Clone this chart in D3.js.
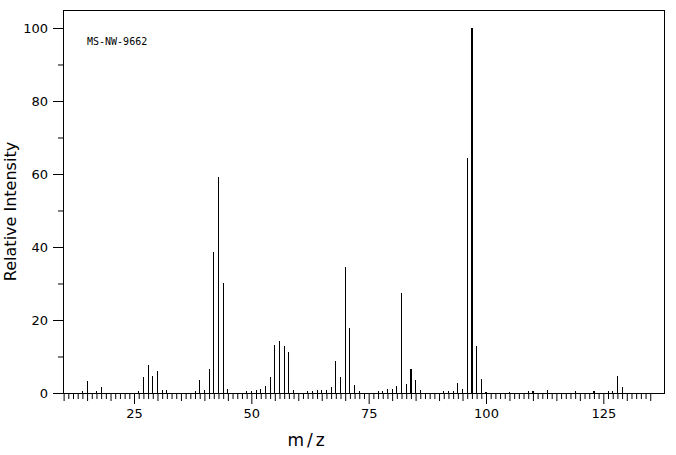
<!DOCTYPE html>
<html>
<head>
<meta charset="utf-8">
<script src="https://cdn.jsdelivr.net/npm/d3@7"></script>
<style>
  body { margin: 0; background: #fff; }
  text { font-family: "DejaVu Sans", sans-serif; fill: #000; }
</style>
</head>
<body>
<div id="chart"></div>
<script>
// peaks (m/z, relative intensity)
var mz = [14, 15, 17, 18, 26, 27, 28, 29, 30, 31, 32, 38, 39, 40, 41, 42, 43, 44, 45,
  49, 50, 51, 52, 53, 54, 55, 56, 57, 58, 59, 62, 63, 64, 65, 66, 67, 68, 69, 70, 71, 72, 73,
  77, 78, 79, 80, 81, 82, 83, 84, 85, 86, 91, 92, 93, 94, 95, 96, 97, 98, 99, 100,
  105, 109, 110, 113, 119, 123, 126, 127, 128, 129]
var intensity = [0.45, 3.2, 0.45, 1.7, 0.6, 4.3, 7.8, 4.6, 6.1, 0.9, 0.7, 0.45, 3.65, 0.9, 6.6, 38.6, 59.2, 30.2, 1.2,
  0.45, 0.45, 0.7, 1.2, 2.0, 4.5, 13.2, 14.2, 12.9, 11.3, 0.9, 0.45, 0.45, 0.7, 0.7, 0.7, 1.55, 8.9, 4.5, 34.5, 17.8, 2.3, 0.45,
  0.45, 0.45, 1.2, 1.2, 2.0, 27.4, 2.6, 6.6, 3.65, 0.9, 0.6, 0.45, 0.45, 2.7, 1.0, 64.4, 100, 12.9, 3.9, 0.3,
  0.3, 0.6, 0.5, 0.9, 0.6, 0.5, 0.6, 0.6, 4.75, 1.55]

var xTickLabels = [25, 50, 75, 100, 125]
var yTickLabels = [0, 20, 40, 60, 80, 100]
var title = "MS-NW-9662"

var peaks = mz.map(function(m, i) { return {mz: m, val: intensity[i]}; });

var margin = {top: 10, right: 12, bottom: 62, left: 63},
width = 676 - margin.left - margin.right,
height = 455 - margin.top - margin.bottom;

var x = d3.scaleLinear()
          .domain([9.87, 137.93])
          .range([0, width]);
var y = d3.scaleLinear()
          .domain([0, 104.93])
          .range([height, 0]);

var svg = d3.select("#chart").append("svg")
    .attr("width", width + margin.left + margin.right)
    .attr("height", height + margin.top + margin.bottom)
  .append("g")
    .attr("transform", "translate(" + margin.left + "," + margin.top + ")");

svg.append("rect")
  .attr("x", 0.5).attr("y", 0.5)
  .attr("width", width).attr("height", height)
  .attr("fill", "none")
  .attr("stroke", "#000")
  .attr("shape-rendering", "crispEdges");

svg.selectAll(".peak")
    .data(peaks)
  .enter().append("rect")
    .attr("class", "peak")
    .attr("x", function(d) { return x(d.mz) - 0.5; })
    .attr("width", 1.1)
    .attr("y", function(d) { return y(d.val); })
    .attr("height", function(d) { return height - y(d.val); })
    .attr("fill", "#000")
    .attr("shape-rendering", "crispEdges");

// x axis: a tick at every unit, longer every 5 and every 25
var xAxis = svg.append("g")
  .attr("transform", "translate(0," + height + ")")
  .call(d3.axisBottom(x)
    .tickValues(d3.range(10, 136))
    .tickSizeOuter(0)
    .tickFormat(function(d) { return xTickLabels.indexOf(d) >= 0 ? d : ""; }));
xAxis.selectAll(".tick line")
  .attr("y2", function(d) { return d % 25 == 0 ? 11 : (d % 5 == 0 ? 8 : 6); });
xAxis.selectAll(".tick text")
  .attr("y", 16)
  .attr("font-size", 13);

var yAxis = svg.append("g")
  .call(d3.axisLeft(y)
    .tickValues(d3.range(0, 101, 10))
    .tickSizeOuter(0)
    .tickFormat(function(d) { return yTickLabels.indexOf(d) >= 0 ? d : ""; }));
yAxis.selectAll(".tick line")
  .attr("x2", function(d) { return d % 20 == 0 ? -10 : -5; });
yAxis.selectAll(".tick text")
  .attr("x", -15)
  .attr("font-size", 13);
svg.selectAll(".domain").attr("stroke", "#000");

svg.append("text")
  .attr("x", x(62))
  .attr("y", height + 53)
  .attr("text-anchor", "middle")
  .attr("font-size", 17)
  .attr("letter-spacing", 3)
  .text("m/z");

svg.append("text")
  .attr("transform", "translate(" + (-47) + "," + (height / 2 + 10) + ") rotate(-90)")
  .attr("text-anchor", "middle")
  .attr("font-size", 16)
  .text("Relative Intensity");

svg.append("text")
  .attr("x", 24)
  .attr("y", 35)
  .style("font-family", "'DejaVu Sans Mono', monospace")
  .attr("font-size", 10)
  .text(title);
</script>
</body>
</html>
